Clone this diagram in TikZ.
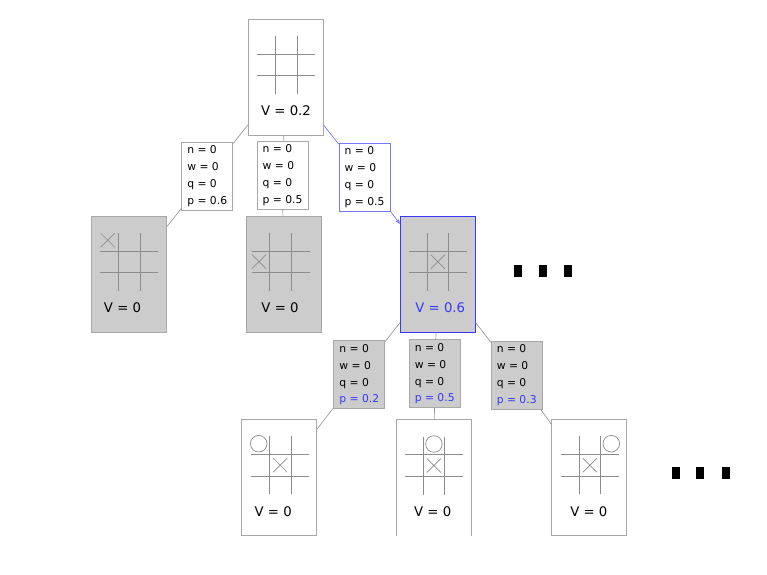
\documentclass[tikz,border=0pt]{standalone}
\usepackage{fontspec}
\setmainfont{DejaVu Sans}
\usetikzlibrary{calc,arrows.meta}
\definecolor{boxgray}{HTML}{CCCCCC}
\definecolor{linegray}{HTML}{A8A8A8}
\definecolor{gridgray}{HTML}{8C8C8C}
\definecolor{edgegray}{HTML}{999999}
\definecolor{hiblue}{RGB}{55,55,255}
\definecolor{softblue}{RGB}{120,120,255}
\begin{document}
\begin{tikzpicture}[x=1bp,y=-1bp,
  state/.style={draw=linegray, line width=0.8bp, minimum width=75bp, minimum height=116bp, inner sep=0pt, fill=white},
  visited/.style={state, fill=boxgray},
  stat/.style={draw=linegray, line width=0.8bp, minimum width=51bp, minimum height=68bp, inner sep=0pt, align=left, fill=white, font=\fontsize{10.8}{17}\selectfont},
  edge/.style={draw=edgegray, line width=0.7bp},
  vlabel/.style={font=\fontsize{13.3}{16}\selectfont, inner sep=0pt},
  dotmark/.style={fill=black, minimum width=8bp, minimum height=11.5bp, inner sep=0pt},
  board/.pic={\draw[gridgray, line width=0.8bp] (-10.75,-29) -- (-10.75,29) (10.75,-29) -- (10.75,29) (-29,-10.75) -- (29,-10.75) (-29,10.75) -- (29,10.75);},
  xmark/.pic={\draw[gridgray, line width=0.7bp] (-7,-7) -- (7,7) (-7,7) -- (7,-7);},
  omark/.pic={\draw[gridgray, line width=0.7bp] (0,0) circle[radius=8.3bp];}
]
\useasboundingbox (0,0) rectangle (767,575);

% state nodes
\node[state] (root) at (285.8,77) {};
\node[visited] (c1) at (128.9,274) {};
\node[visited] (c2) at (283.4,274) {};
\node[visited, draw=hiblue] (c3) at (437.9,274) {};
\node[state] (g1) at (279.2,477.7) {};
\node[state, draw=none] (g2) at (433.9,478) {};
\node[state] (g3) at (589.2,477.7) {};
\draw[linegray, line width=0.8bp] (g2.south west) -- (g2.north west) -- (g2.north east) -- (g2.south east);

% boards
\pic at ($(root)+(0.5,-12)$) {board};
\pic at ($(c1)+(0.3,-12.3)$) {board};
\pic at ($(c1)+(0.3,-12.3)+(-21.5,-21.5)$) {xmark};
\pic at ($(c2)+(-2.9,-12.3)$) {board};
\pic at ($(c2)+(-2.9,-12.3)+(-21.5,0)$) {xmark};
\pic at ($(c3)+(0,-12.3)$) {board};
\pic at ($(c3)+(0,-12.3)$) {xmark};
\pic at ($(g1)+(1,-12.5)$) {board};
\pic at ($(g1)+(1,-12.5)$) {xmark};
\pic at ($(g1)+(1,-12.5)+(-21.5,-21.5)$) {omark};
\pic at ($(g2)+(0,-12.5)$) {board};
\pic at ($(g2)+(0,-12.5)$) {xmark};
\pic at ($(g2)+(0,-12.5)+(0,-21.5)$) {omark};
\pic at ($(g3)+(0.6,-12.5)$) {board};
\pic at ($(g3)+(0.6,-12.5)$) {xmark};
\pic at ($(g3)+(0.6,-12.5)+(21.5,-21.5)$) {omark};

% values
\node[vlabel] (v0) at ($(root)+(0.2,33.7)$) {V = 0.2};
\node[vlabel] (v1) at ($(c1)+(-6.4,34)$) {V = 0};
\node[vlabel] (v2) at ($(c2)+(-3.4,34)$) {V = 0};
\node[vlabel, text=hiblue] (v3) at ($(c3)+(2.4,34)$) {V = 0.6};
\node[vlabel] (v4) at ($(g1)+(-6,33.5)$) {V = 0};
\node[vlabel] (v5) at ($(g2)+(-1.2,33.5)$) {V = 0};
\node[vlabel] (v6) at ($(g3)+(-0.4,33.5)$) {V = 0};

% edge statistics
\node[stat] (l1) at (207.2,176.2) {n = 0\\w = 0\\q = 0\\p = 0.6};
\node[stat] (l2) at (282.5,175) {n = 0\\w = 0\\q = 0\\p = 0.5};
\node[stat, draw=softblue] (l3) at (364.5,177) {n = 0\\w = 0\\q = 0\\p = 0.5};
\node[stat, fill=boxgray] (la) at (359.3,374.7) {n = 0\\w = 0\\q = 0\\\textcolor{hiblue}{p = 0.2}};
\node[stat, fill=boxgray] (lb) at (434.7,373.7) {n = 0\\w = 0\\q = 0\\\textcolor{hiblue}{p = 0.5}};
\node[stat, fill=boxgray] (lc) at (516.7,375.5) {n = 0\\w = 0\\q = 0\\\textcolor{hiblue}{p = 0.3}};

% connectors
\draw[edge] (root) -- (l1) -- (c1);
\draw[edge] (root) -- (l2) -- (c2);
\draw[edge, draw=softblue] (root) -- (l3);
\draw[edge, draw=softblue, -{Stealth[length=5bp,width=4bp]}] (l3) -- (c3);
\draw[edge] (c3) -- (la) -- (g1);
\draw[edge] (c3) -- (lb) -- (g2);
\draw[edge] (c3) -- (lc) -- (g3);

% ellipses
\node[dotmark] (d1) at (518,271) {};
\node[dotmark] (d2) at (543,271) {};
\node[dotmark] (d3) at (568,271) {};
\node[dotmark] (d4) at (675.5,473) {};
\node[dotmark] (d5) at (700.3,473) {};
\node[dotmark] (d6) at (726,473) {};
\end{tikzpicture}
\end{document}
